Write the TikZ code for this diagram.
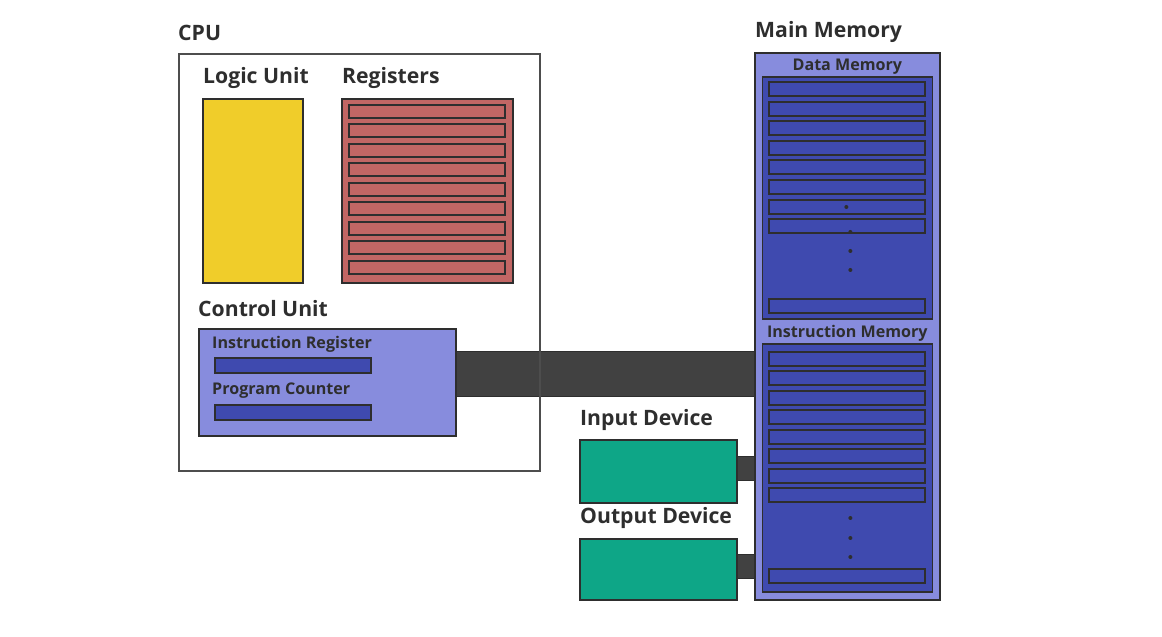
\documentclass[tikz,border=0pt]{standalone}
\usepackage{fontspec}
\setmainfont{Open Sans}
\usetikzlibrary{positioning,calc,backgrounds}
\definecolor{lineclr}{HTML}{2E2E2E}
\definecolor{logicclr}{HTML}{F0CD2A}
\definecolor{regclr}{HTML}{C26664}
\definecolor{memlight}{HTML}{878CDD}
\definecolor{memdark}{HTML}{3F4AAF}
\definecolor{ioclr}{HTML}{0EA687}
\definecolor{busclr}{HTML}{414141}

\begin{document}
\begin{tikzpicture}[x=1pt, y=1pt,
  box/.style={draw=lineclr, line width=1.7pt, inner sep=0pt, anchor=north west},
  slot/.style={draw=lineclr, line width=2pt, fill=memdark, inner sep=0pt,
               minimum width=156pt, minimum height=14pt},
  head/.style={font=\bfseries\fontsize{21.2}{25}\selectfont, text=lineclr,
               inner sep=0pt, anchor=base west},
  sub/.style={font=\bfseries\fontsize{16.1}{20}\selectfont, text=lineclr,
              inner sep=0pt, anchor=base west},
  bus/.style={draw=lineclr, line width=1pt, fill=busclr},
  dot/.style={circle, fill=lineclr, inner sep=0pt, minimum size=4pt}
]
\useasboundingbox (0,0) rectangle (1162,637);

% CPU
\node[box, draw=lineclr!85, minimum width=361pt, minimum height=417pt] (cpu) at (178,584) {};
\node[head] (cpulbl) at ($(cpu.north west)+(0,12)$) {CPU};

\node[box, fill=logicclr, minimum width=100pt, minimum height=184pt] (logic) at (202,539) {};
\node[head] (logiclbl) at ($(logic.north west)+(1,14)$) {Logic Unit};

\node[box, fill=regclr, minimum width=171pt, minimum height=184pt] (regs) at (341,539) {};
\node[head] (regslbl) at ($(regs.north west)+(1,14)$) {Registers};
\foreach \i in {0,...,8}
  \node[slot, fill=regclr, minimum height=13pt] (reg\i) at ($(regs.north)+(0,-13.5-\i*19.5)$) {};

\node[box, fill=memlight, minimum width=257pt, minimum height=107pt] (cu) at (198,309) {};
\node[head] (culbl) at ($(cu.north west)+(0,11)$) {Control Unit};
\node[sub] (irlbl) at ($(cu.north west)+(14,-21)$) {Instruction Register};
\node[slot, anchor=north west, minimum height=15pt] (ir) at ($(cu.north west)+(16,-29)$) {};
\node[sub] (pclbl) at ($(cu.north west)+(14,-67)$) {Program Counter};
\node[slot, anchor=north west, minimum height=15pt] (pc) at ($(cu.north west)+(16,-76)$) {};

% I/O
\node[box, fill=ioclr, minimum width=157pt, minimum height=63pt] (in) at (579,198) {};
\node[head] (inlbl) at ($(in.north west)+(1,13)$) {Input Device};
\node[box, fill=ioclr, minimum width=157pt, minimum height=61pt] (out) at (579,99) {};
\node[head] (outlbl) at ($(out.north west)+(1,14)$) {Output Device};

% Main memory
\node[box, fill=memlight, minimum width=185pt, minimum height=547pt] (mem) at (754,585) {};
\node[head] (memlbl) at ($(mem.north west)+(1,14)$) {Main Memory};

\node[sub, anchor=base] (dmemlbl) at ($(mem.north)+(0,-19)$) {Data Memory};
\node[box, fill=memdark, anchor=north, minimum width=170pt, minimum height=242pt] (dmem) at ($(mem.north)+(0,-24)$) {};
\foreach \i in {0,...,7}
  \node[slot] (dslot\i) at ($(dmem.north)+(0,-13-\i*19.6)$) {};
\node[slot] (dlast) at ($(dmem.south)+(0,14)$) {};
\node[dot] (dd0) at ($(dmem.north)+(-1,-131)$) {};
\foreach \i/\dy in {1/156,2/175,3/194}
  \node[dot] (dd\i) at ($(dmem.north)+(3,-\dy)$) {};

\node[box, fill=memdark, anchor=north, minimum width=170pt, minimum height=248pt] (imem) at ($(mem.north)+(0,-291)$) {};
\node[sub, anchor=base] (imemlbl) at ($(imem.north)+(0,5)$) {Instruction Memory};
\foreach \i in {0,...,7}
  \node[slot] (islot\i) at ($(imem.north)+(0,-16-\i*19.5)$) {};
\node[slot] (ilast) at ($(imem.south)+(0,17)$) {};
\foreach \i/\dy in {0/175,1/195,2/214}
  \node[dot] (id\i) at ($(imem.north)+(3,-\dy)$) {};

% buses
\begin{scope}[on background layer]
\draw[bus] ($(cu.north east)+(0,-24)$) rectangle ($(cu.north east -| mem.west)+(0,-69)$);
\draw[bus] ($(in.east)+(0,14.5)$) rectangle ($(in.east -| mem.west)+(0,-9.5)$);
\draw[bus] ($(out.east)+(0,14.5)$) rectangle ($(out.east -| mem.west)+(0,-9.5)$);
\end{scope}
\end{tikzpicture}
\end{document}
